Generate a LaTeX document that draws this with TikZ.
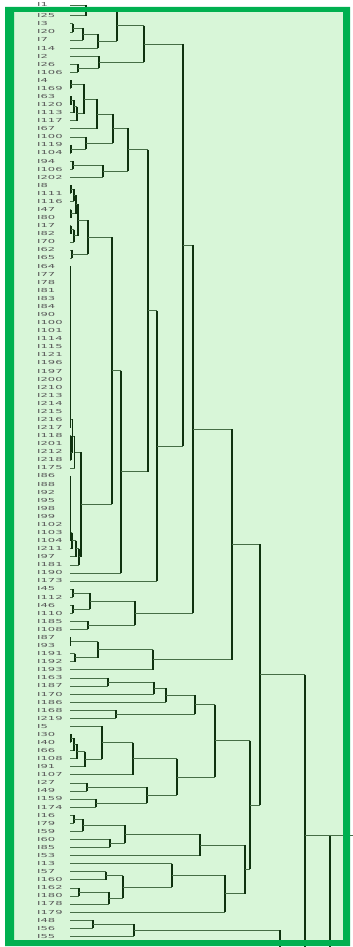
\documentclass[tikz,border=0pt]{standalone}
\usepackage{fontspec}
\setmainfont{DejaVu Sans}
\usepackage{graphicx}
\usetikzlibrary{calc}
\definecolor{framegreen}{RGB}{0,176,80}
\definecolor{bggreen}{RGB}{216,246,216}
\definecolor{hcol}{RGB}{70,110,70}
\definecolor{vcol}{RGB}{15,50,15}
\tikzset{
  hl/.style={draw=hcol,line width=0.6pt},
  vl/.style={draw=vcol,line width=1.1pt},
  lab/.style={anchor=west,inner sep=0pt,font=\fontsize{5.5}{5.5}\selectfont,text=black!65}
}
\newcommand\mrg[4]{%
  \path let \p1=(#3), \p2=(#4) in coordinate (#1) at (#2pt,{0.5*(\y1+\y2)});
  \draw[hl] (#3) -- (#3 -| #1);
  \draw[hl] (#4) -- (#4 -| #1);
  \draw[vl] (#3 -| #1) -- (#4 -| #1);}
\begin{document}
\begin{tikzpicture}[x=1pt,y=-1pt]
\useasboundingbox (0,0) rectangle (353,947);
\fill[white] (0,0) rectangle (353,947);
\fill[bggreen] (5,7) rectangle (350,946);
% leaves
\coordinate (L0) at (70,5);
\node[lab] (T0) at (37,4) {\scalebox{2.1}[1]{I1}};
\foreach \n [count=\i] in {I25,I3,I20,I7,I14,I2,I26,I106,I4,I169,I63,I120,I113,I117,I67,I100,I119,I104,I94,I106,I202,I8,I111,I116,I47,I80,I17,I82,I70,I62,I65,I64,I77,I78,I81,I83,I84,I90,I100,I101,I114,I115,I121,I196,I197,I200,I210,I213,I214,I215,I216,I217,I118,I201,I212,I218,I175,I86,I88,I92,I95,I98,I99,I102,I103,I104,I211,I97,I181,I190,I173,I45,I112,I46,I110,I185,I108,I87,I93,I191,I192,I193,I163,I187,I170,I186,I168,I219,I5,I30,I40,I66,I108,I91,I107,I27,I49,I159,I174,I16,I79,I59,I60,I85,I53,I13,I57,I160,I162,I180,I178,I179,I48,I56,I55}{
  \coordinate (L\i) at (70,{15.7+(\i-1)*8.075});
  \node[lab] (T\i) at (37,{15.7+(\i-1)*8.075}) {\scalebox{2.1}[1]{\n}};
}
% continuation below the visible part
\coordinate (Z1) at (70,1060);
\coordinate (Z2) at (70,1100);
% top block
\mrg{a1}{86}{L0}{L1}
\mrg{a2}{73}{L2}{L3}
\mrg{a3}{83}{a2}{L4}
\mrg{a4}{98}{a3}{L5}
\mrg{a5}{117}{a1}{a4}
\mrg{a6}{78}{L7}{L8}
\mrg{a7}{99}{L6}{a6}
\mrg{a8}{144}{a5}{a7}
% b
\mrg{b1}{71}{L9}{L10}
\mrg{b2}{71}{L11}{L12}
\mrg{b3}{74}{b2}{L13}
\mrg{b4}{77}{b3}{L14}
\mrg{b5}{84}{b1}{b4}
\mrg{b6}{97}{b5}{L15}
\mrg{b7}{71}{L17}{L18}
\mrg{b8}{86}{L16}{b7}
\mrg{b9}{113}{b6}{b8}
\mrg{b10}{73}{L19}{L20}
\mrg{b11}{103}{b10}{L21}
\mrg{b12}{128}{b9}{b11}
% c
\mrg{c1}{71}{L22}{L23}
\mrg{c2}{74}{c1}{L24}
\mrg{c3}{71}{L25}{L26}
\mrg{c4}{76}{c2}{c3}
\mrg{c5}{71}{L27}{L28}
\mrg{c6}{74}{c5}{L29}
\mrg{c7}{78}{c4}{c6}
\mrg{c8}{72}{L30}{L31}
\mrg{c9}{88}{c7}{c8}
% d chains
\mrg{ca33}{70.5}{L32}{L33}
\foreach \i [remember=\i as \j (initially 33)] in {34,...,52}{\mrg{ca\i}{70.5}{ca\j}{L\i}}
\mrg{cb54}{71}{L53}{L54}
\mrg{cb55}{71}{cb54}{L55}
\mrg{cb56}{71}{cb55}{L56}
\mrg{d3}{72.7}{ca52}{cb56}
\mrg{d4}{74.5}{d3}{L57}
\mrg{ce59}{70.5}{L58}{L59}
\foreach \i [remember=\i as \j (initially 59)] in {60,...,66}{\mrg{ce\i}{70.5}{ce\j}{L\i}}
\mrg{e2}{72}{ce66}{L67}
\mrg{e3}{76}{e2}{L68}
\mrg{e4}{79}{e3}{L69}
\mrg{d5}{81}{d4}{e4}
\mrg{f}{112}{c9}{d5}
\mrg{g}{121}{f}{L70}
\mrg{h}{148}{b12}{g}
\mrg{i}{157}{h}{L71}
\mrg{j}{183}{a8}{i}
% E
\mrg{k1}{73}{L72}{L73}
\mrg{k2}{73}{L74}{L75}
\mrg{k3}{90}{k1}{k2}
\mrg{k4}{88}{L76}{L77}
\mrg{k5}{135}{k3}{k4}
\mrg{l}{193}{j}{k5}
% F
\mrg{m1}{70.7}{L78}{L79}
\mrg{m2}{75}{L80}{L81}
\mrg{m3}{98}{m1}{m2}
\mrg{m4}{153}{m3}{L82}
% G
\mrg{n1}{108}{L83}{L84}
\mrg{n2}{154}{n1}{L85}
\mrg{n3}{166}{n2}{L86}
\mrg{n4}{116}{L87}{L88}
\mrg{n5}{195}{n3}{n4}
% H
\mrg{o1}{71}{L90}{L91}
\mrg{o2}{74}{o1}{L92}
\mrg{o3}{77}{o2}{L93}
\mrg{o4}{85}{o3}{L94}
\mrg{o5}{102}{L89}{o4}
\mrg{o6}{133}{o5}{L95}
% I
\mrg{p1}{87}{L96}{L97}
\mrg{p2}{96}{L98}{L99}
\mrg{p3}{147}{p1}{p2}
\mrg{p4}{177}{o6}{p3}
% J
\mrg{q1}{74}{L100}{L101}
\mrg{q2}{83}{q1}{L102}
\mrg{q3}{110}{L103}{L104}
\mrg{q4}{125}{q2}{q3}
% K
\mrg{r1}{106}{L107}{L108}
\mrg{r2}{79}{L109}{L110}
\mrg{r3}{109}{r2}{L111}
\mrg{r4}{123}{r1}{r3}
\mrg{r5}{172}{L106}{r4}
% L
\mrg{s1}{93}{L113}{L114}
\mrg{s2}{134}{s1}{L115}
% upper levels
\mrg{t1}{232}{l}{m4}
\mrg{t2}{215}{n5}{p4}
\mrg{t3}{200}{q4}{L105}
\mrg{t3b}{225}{r5}{L112}
\mrg{t3c}{245}{t3}{t3b}
\mrg{t5}{250}{t2}{t3c}
\mrg{t4}{260}{t1}{t5}
\mrg{u1}{280}{s2}{Z1}
\mrg{t7}{305}{t4}{u1}
\mrg{root}{330}{t7}{Z2}
\coordinate (rootend) at (353,0);
\draw[hl] (t7) -- (t7 -| rootend);
% frame
\fill[framegreen,even odd rule] (5,7) rectangle (350,946) (14,12) rectangle (343,940);
\end{tikzpicture}
\end{document}
